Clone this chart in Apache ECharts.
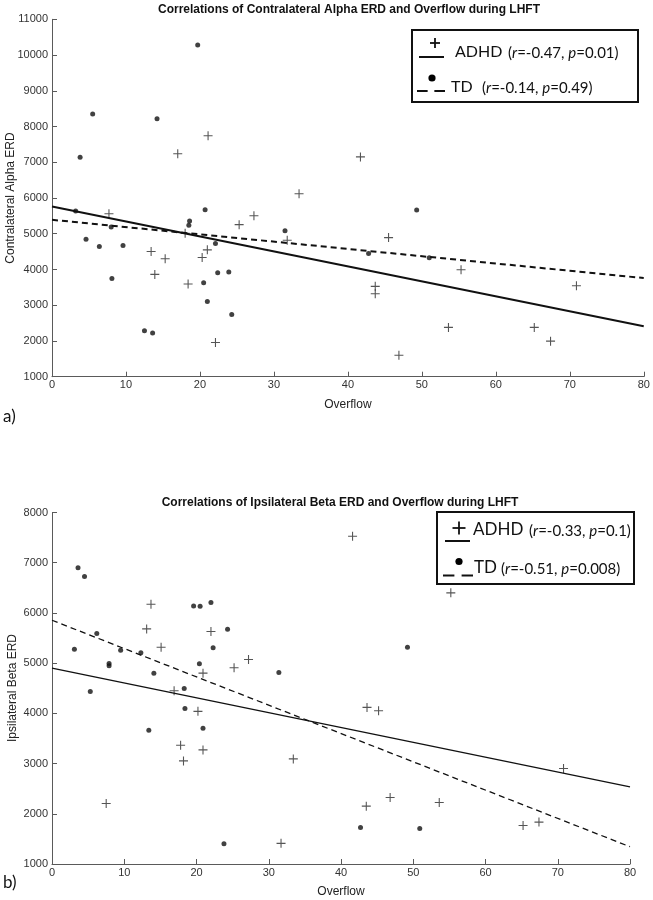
<!DOCTYPE html>
<html>
<head>
<meta charset="utf-8">
<script src="https://cdn.jsdelivr.net/npm/echarts@6/dist/echarts.min.js"></script>
<style>html,body{margin:0;padding:0;background:#fff}#c{width:653px;height:900px}</style>
</head>
<body>
<div id="c"></div>
<script>
// ---------- data ----------
const titleA = 'Correlations of Contralateral Alpha ERD and Overflow during LHFT';
const titleB = 'Correlations of Ipsilateral Beta ERD and Overflow during LHFT';
const yNameA = 'Contralateral Alpha ERD';
const yNameB = 'Ipsilateral Beta ERD';
const xName = 'Overflow';
const xRange = [0, 80, 10];
const yRangeA = [1000, 11000, 1000];
const yRangeB = [1000, 8000, 1000];

const adhdA = [[21.1,7740],[17.0,7240],[41.7,7150],[33.4,6120],[7.7,5560],[27.3,5505],[25.3,5254],[18.0,5013],
  [31.8,4818],[45.5,4892],[21.0,4549],[20.3,4335],[13.4,4502],[15.3,4298],[55.3,3992],[13.9,3862],[18.4,3592],
  [43.7,3528],[43.7,3323],[70.9,3546],[22.1,1958],[53.6,2380],[65.2,2380],[67.4,1995],[46.9,1601]];
const tdA = [[19.7,10280],[5.5,8350],[14.2,8220],[3.8,7140],[3.2,5635],[20.7,5672],[49.3,5663],[18.6,5357],
  [18.5,5236],[8.0,5190],[31.5,5087],[4.6,4846],[6.4,4642],[9.6,4669],[22.1,4725],[42.8,4447],[51.0,4326],
  [22.4,3908],[23.9,3927],[8.1,3750],[20.5,3630],[21.0,3103],[24.3,2737],[12.5,2286],[13.6,2221]];
const adhdFitA = [[0,5760],[80,2410]];
const tdFitA = [[0,5390],[80,3760]];

const adhdB = [[41.6,7527],[55.2,6400],[13.7,6173],[13.1,5682],[22.0,5629],[15.1,5318],[27.2,5073],[25.2,4907],
  [20.9,4801],[16.9,4450],[43.6,4119],[45.2,4053],[20.2,4040],[17.8,3364],[20.9,3272],[18.2,3053],[33.4,3093],
  [70.8,2901],[7.5,2205],[46.8,2325],[43.5,2152],[53.6,2225],[31.7,1411],[65.2,1768],[67.4,1834]];
const tdB = [[3.6,6900],[4.5,6727],[19.6,6140],[20.5,6133],[22.0,6207],[24.3,5675],[6.2,5589],[3.1,5278],
  [9.5,5258],[12.3,5205],[22.3,5305],[49.2,5318],[7.9,4993],[7.9,4947],[20.4,4987],[14.1,4801],[31.4,4815],
  [5.3,4437],[18.3,4497],[18.4,4099],[20.9,3702],[13.4,3662],[42.7,1728],[50.9,1709],[23.8,1404]];
const adhdFitB = [[0,4900],[80,2536]];
const tdFitB = [[0,5854],[80,1344]];

const legendA = [['ADHD', '-0.47', '0.01'], ['TD', '-0.14', '0.49']];
const legendB = [['ADHD', '-0.33', '0.1'], ['TD', '-0.51', '0.008']];

// ---------- styles ----------
const AX = '#5a5a5a';
const LAB = '#333';
const PLUS = 'path://M4.4,0H5.6V10H4.4ZM0,4.4H10V5.6H0Z';
const LEGFONT = 'Lato, "Open Sans", sans-serif';
const plain = v => String(v);

function xAxis(gi) {
  return {
    type: 'value', gridIndex: gi, min: xRange[0], max: xRange[1], interval: xRange[2],
    name: xName, nameLocation: 'middle', nameGap: 22,
    nameTextStyle: {fontFamily: 'Liberation Sans, Arial', fontSize: 12, color: '#222'},
    axisLine: {lineStyle: {color: AX, width: 1}},
    axisTick: {inside: true, length: 5, lineStyle: {color: AX}},
    axisLabel: {margin: 3, fontFamily: 'Liberation Sans, Arial', fontSize: 11, color: LAB, formatter: plain},
    splitLine: {show: false}
  };
}
function yAxis(gi, r) {
  return {
    type: 'value', gridIndex: gi, min: r[0], max: r[1], interval: r[2],
    axisLine: {show: true, lineStyle: {color: AX, width: 1}},
    axisTick: {inside: true, length: 5, lineStyle: {color: AX}},
    axisLabel: {margin: 4, fontFamily: 'Liberation Sans, Arial', fontSize: 11, color: LAB, formatter: plain},
    splitLine: {show: false}
  };
}
function scat(gi, data, plus) {
  return plus ? {
    type: 'scatter', xAxisIndex: gi, yAxisIndex: gi, data: data, symbol: PLUS, symbolSize: 9,
    itemStyle: {color: '#2a2a2a'}, silent: true
  } : {
    type: 'scatter', xAxisIndex: gi, yAxisIndex: gi, data: data, symbol: 'circle', symbolSize: 5,
    itemStyle: {color: '#111'}, silent: true
  };
}
function fit(gi, data, dashed, w) {
  return {
    type: 'line', xAxisIndex: gi, yAxisIndex: gi, data: data, showSymbol: false, silent: true,
    lineStyle: {color: '#111', width: w, type: dashed ? [6, 4] : 'solid'}
  };
}

// legend graphic builder
function legend(box, rows, big) {
  const els = [];
  els.push({type: 'rect', shape: {x: box.x, y: box.y, width: box.w, height: box.h},
    style: {fill: '#fff', stroke: '#111', lineWidth: 2}, z: 10});
  rows.forEach((row, i) => {
    const r = box.rows[i];
    if (i === 0) {
      const s = r.ps;
      els.push({type: 'line', shape: {x1: r.mx - s, y1: r.my, x2: r.mx + s, y2: r.my}, style: {stroke: '#111', lineWidth: 1.8}, z: 11});
      els.push({type: 'line', shape: {x1: r.mx, y1: r.my - s, x2: r.mx, y2: r.my + s}, style: {stroke: '#111', lineWidth: 1.8}, z: 11});
      els.push({type: 'line', shape: {x1: r.lx1, y1: r.ly, x2: r.lx2, y2: r.ly}, style: {stroke: '#111', lineWidth: 2}, z: 11});
    } else {
      els.push({type: 'circle', shape: {cx: r.mx, cy: r.my, r: 3.6}, style: {fill: '#000'}, z: 11});
      const L = r.lx2 - r.lx1, d = L * 0.38;
      els.push({type: 'line', shape: {x1: r.lx1, y1: r.ly, x2: r.lx1 + d, y2: r.ly}, style: {stroke: '#111', lineWidth: 2}, z: 11});
      els.push({type: 'line', shape: {x1: r.lx2 - d, y1: r.ly, x2: r.lx2, y2: r.ly}, style: {stroke: '#111', lineWidth: 2}, z: 11});
    }
    els.push({type: 'text', x: r.tx, y: r.ty, z: 11,
      style: {text: row[0], font: big + 'px ' + LEGFONT, fill: '#111', verticalAlign: 'middle', align: 'left'}});
    els.push({type: 'text', x: r.px, y: r.ty + 1, z: 11,
      style: {
        text: '(' + '{i|r}' + '=' + row[1] + ', ' + '{i|p}' + '=' + row[2] + ')',
        font: '15px ' + LEGFONT, fill: '#111', verticalAlign: 'middle', align: 'left',
        rich: {i: {fontFamily: LEGFONT, fontSize: 15, fontStyle: 'italic', fill: '#111'}}
      }});
  });
  return els;
}

const chart = echarts.init(document.getElementById('c'), null, {renderer: 'canvas'});
const AXFONT = '12px "Liberation Sans", Arial';
const graphics = [
  {type: 'text', x: 349, y: 10, style: {text: titleA, font: 'bold 12px "Liberation Sans", Arial', fill: '#111', align: 'center', verticalAlign: 'middle'}},
  {type: 'text', x: 340, y: 503, style: {text: titleB, font: 'bold 12px "Liberation Sans", Arial', fill: '#111', align: 'center', verticalAlign: 'middle'}},
  {type: 'text', x: 11, y: 198, rotation: Math.PI / 2, style: {text: yNameA, font: AXFONT, fill: '#222', align: 'center', verticalAlign: 'middle'}},
  {type: 'text', x: 12.5, y: 688, rotation: Math.PI / 2, style: {text: yNameB, font: AXFONT, fill: '#222', align: 'center', verticalAlign: 'middle'}},
  {type: 'text', x: 3, y: 417, style: {text: 'a)', font: '17px ' + LEGFONT, fill: '#111', verticalAlign: 'middle'}},
  {type: 'text', x: 3, y: 883, style: {text: 'b)', font: '17px ' + LEGFONT, fill: '#111', verticalAlign: 'middle'}}
].concat(
  legend({x: 412, y: 30, w: 226, h: 72, rows: [
    {mx: 435, my: 43, ps: 5, lx1: 419, lx2: 444, ly: 57, tx: 455, ty: 52, px: 508},
    {mx: 432, my: 78, lx1: 417, lx2: 445, ly: 91, tx: 451, ty: 87, px: 482}
  ]}, legendA, 16),
  legend({x: 437, y: 512, w: 197, h: 72, rows: [
    {mx: 459, my: 528, ps: 6.5, lx1: 445, lx2: 470, ly: 541, tx: 473, ty: 530, px: 529},
    {mx: 459, my: 561.5, lx1: 443, lx2: 473, ly: 575.5, tx: 474, ty: 568, px: 501}
  ]}, legendB, 17)
);

chart.setOption({
  animation: false,
  backgroundColor: '#fff',
  grid: [
    {left: 52, top: 19.3, width: 591.75, height: 357.4, containLabel: false, outerBoundsMode: 'none'},
    {left: 52, top: 512.5, width: 578, height: 351.5, containLabel: false, outerBoundsMode: 'none'}
  ],
  xAxis: [xAxis(0), xAxis(1)],
  yAxis: [yAxis(0, yRangeA), yAxis(1, yRangeB)],
  series: [
    fit(0, adhdFitA, false, 2), fit(0, tdFitA, true, 2),
    scat(0, adhdA, true), scat(0, tdA, false),
    fit(1, adhdFitB, false, 1.3), fit(1, tdFitB, true, 1.3),
    scat(1, adhdB, true), scat(1, tdB, false)
  ],
  graphic: graphics
});
</script>
</body>
</html>
